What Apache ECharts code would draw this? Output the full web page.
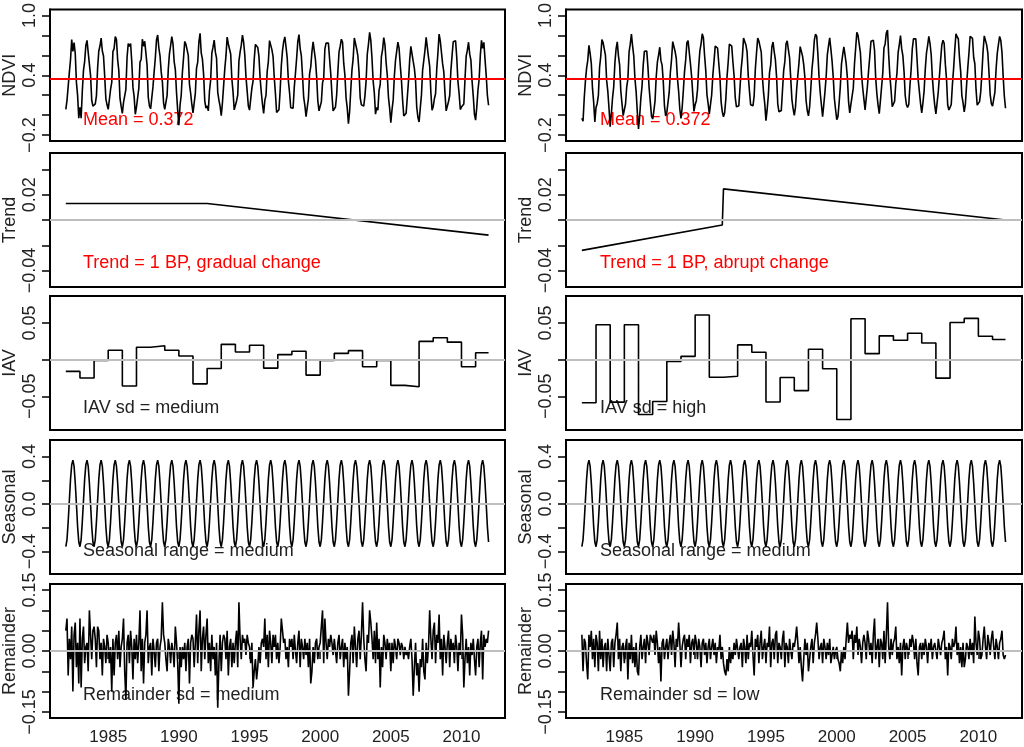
<!DOCTYPE html>
<html>
<head>
<meta charset="utf-8">
<script src="https://cdn.jsdelivr.net/npm/echarts@6/dist/echarts.min.js"></script>
<style>
  html, body { margin: 0; padding: 0; background: #fff; }
  #chart { width: 1024px; height: 747px; }
</style>
</head>
<body>
<div id="chart"></div>
<script>
// ---- data ----
var startYear = 1982;
var meanNDVI = 0.372;

// one seasonal cycle, Jan..Dec (same in both columns)
var seasonalCycle = [-0.36, -0.30, -0.15, 0.03, 0.21, 0.33, 0.37, 0.32, 0.18, 0.00, -0.19, -0.32];

// trend break points
var trendYearsL = [1982, 1992, 2011.917];
var trendValsL  = [0.013, 0.013, -0.012];
var trendYearsR = [1982, 1991.917, 1992, 2011.917];
var trendValsR  = [-0.024, -0.004, 0.0246, 0.0];

// inter-annual variation, one value per year 1982..2011
var iavL = [-0.016, -0.025, -0.001, 0.013, -0.036, 0.017, 0.019, 0.013, 0.005, -0.033,
            -0.012, 0.021, 0.0105, 0.0197, -0.0115, 0.007, 0.0115, -0.021, -0.001, 0.0087,
            0.0124, -0.0096, -0.001, -0.035, -0.037, 0.025, 0.030, 0.024, -0.0096, 0.0096];
var iavR = [-0.0587, 0.0477, -0.058, 0.0477, -0.0748, -0.057, -0.0023, 0.0046, 0.061, -0.0239,
            -0.0225, 0.0202, 0.0101, -0.0578, -0.0243, -0.0422, 0.0142, -0.0124, -0.0817, 0.056,
            0.0083, 0.0326, 0.0266, 0.0362, 0.0229, -0.0252, 0.0509, 0.0564, 0.0321, 0.0275];

// monthly remainder, 1982..2011
var remL = [
  0.05, 0.08,-0.06, 0.03,-0.02, 0.06,-0.10, 0.04, 0.07,-0.04, 0.02,-0.08,
  0.08,-0.09, 0.03, 0.06,-0.03, 0.01, 0.02,-0.05, 0.10, 0.04,-0.02, 0.05,
  0.06, 0.03,-0.04, 0.06, 0.05,-0.02, 0.02,-0.06, 0.03, 0.01,-0.03, 0.04,
  0.02,-0.03, 0.01,-0.10, 0.03,-0.06, 0.02, 0.04,-0.02, 0.05,-0.04, 0.01,
  0.03, 0.08,-0.05,-0.12, 0.02, 0.04,-0.03, 0.05, 0.01,-0.07, 0.03,-0.02,
  0.04,-0.03, 0.02, 0.10,-0.05, 0.03,-0.08, 0.02, 0.04, 0.10,-0.03, 0.01,
  0.02,-0.06, 0.03, 0.00,-0.04, 0.02, 0.03,-0.05, 0.01, 0.03, 0.12, 0.04,
  0.02,-0.02,-0.05, 0.03, 0.01,-0.03, 0.02, 0.00,-0.04, 0.06, 0.02,-0.03,
 -0.13, 0.01,-0.04, 0.01,-0.02, 0.02,-0.05, 0.01, 0.03,-0.08, 0.02, 0.04,
  0.03,-0.04, 0.02, 0.09,-0.03, 0.05, 0.10,-0.05, 0.03, 0.06,-0.02, 0.04,
  0.08,-0.03, 0.02,-0.05, 0.04,-0.02, 0.01,-0.06, 0.02,-0.14,-0.03, 0.04,
 -0.05, 0.02, 0.04, 0.03,-0.02, 0.05,-0.06, 0.01, 0.03,-0.04, 0.02,-0.03,
  0.02, 0.05,-0.04, 0.12, 0.03,-0.02, 0.04, 0.02, 0.03,-0.01, 0.04, 0.02,
  0.01,-0.03, 0.02,-0.09,-0.05,-0.02,-0.07,-0.04, 0.01,-0.03, 0.02, 0.03,
  0.01, 0.08,-0.02, 0.04,-0.04, 0.05, 0.02,-0.03, 0.04, 0.01, 0.04,-0.02,
  0.02,-0.03, 0.01, 0.08, 0.05, 0.02, 0.03,-0.02, 0.01,-0.04, 0.03, 0.01,
  0.03,-0.02, 0.04, 0.00,-0.03, 0.02, 0.05,-0.04, 0.03, 0.01,-0.02, 0.03,
 -0.01, 0.02,-0.04, 0.03,-0.08,-0.05, 0.01,-0.03, 0.02, 0.03,-0.02, 0.01,
  0.02, 0.06, 0.10,-0.03, 0.08, 0.02,-0.02, 0.03, 0.01, 0.04, 0.02,-0.01,
  0.03, 0.00,-0.03, 0.02, 0.04,-0.02, 0.01, 0.03,-0.04, 0.02,-0.02, 0.01,
 -0.11,-0.05, 0.02, 0.04,-0.03, 0.06, 0.01,-0.04, 0.03, 0.05,-0.02, 0.04,
  0.12, 0.03,-0.02,-0.05, 0.04, 0.02, 0.10, 0.07, 0.03,-0.02, 0.05,-0.03,
  0.07,-0.02, 0.03,-0.09, 0.01,-0.04, 0.04, 0.02,-0.02, 0.03, 0.00, 0.02,
 -0.05, 0.02,-0.03, 0.03, 0.01,-0.02, 0.03, 0.02,-0.01, 0.02, 0.01,-0.02,
  0.01,-0.01, 0.00,-0.02, 0.01, 0.03,-0.02,-0.11,-0.04, 0.02,-0.06,-0.03,
 -0.10,-0.02,-0.04, 0.03,-0.05,-0.07, 0.02,-0.03, 0.01, 0.10, 0.03,-0.02,
  0.05, 0.07,-0.03, 0.04, 0.02, 0.09,-0.02, 0.03,-0.06, 0.04, 0.01,-0.03,
  0.02, 0.05,-0.04, 0.03, 0.00, 0.02,-0.03, 0.04, 0.01,-0.05, 0.02,-0.01,
  0.09, 0.04,-0.09,-0.02, 0.03,-0.03, 0.01,-0.06, 0.02,-0.01, 0.03,-0.02,
 -0.06, 0.01, 0.03,-0.04, 0.02, 0.05,-0.07, 0.04, 0.01, 0.03, 0.02, 0.05
];
var remR = [
  0.04,-0.05, 0.03, 0.02,-0.03,-0.07, 0.04, 0.01, 0.05,-0.02, 0.03,-0.04,
  0.04, 0.02,-0.05, 0.05,-0.02, 0.03,-0.04, 0.01, 0.02,-0.05, 0.03,-0.01,
 -0.05, 0.02, 0.03,-0.04, 0.02, 0.04, 0.07,-0.02, 0.03,-0.05, 0.01, 0.02,
 -0.03, 0.01, 0.03,-0.07, 0.02,-0.02, 0.04,-0.03, 0.01,-0.04, 0.02,-0.05,
 -0.06, 0.01, 0.04,-0.02, 0.01, 0.03,-0.03, 0.04, 0.02,-0.01, 0.04, 0.03,
  0.02, 0.04,-0.01, 0.05, 0.02,-0.03, 0.01,-0.075,0.02, 0.03,-0.02, 0.01,
  0.03,-0.02, 0.02, 0.04,-0.01, 0.05, 0.02,-0.04, 0.03, 0.01, 0.07, 0.02,
 -0.04, 0.01, 0.03, 0.04,-0.02, 0.03, 0.01, 0.04,-0.03, 0.02, 0.03,-0.01,
  0.04, 0.02,-0.02, 0.03, 0.01,-0.04, 0.02, 0.03,-0.01, 0.02,-0.03, 0.01,
  0.03,-0.02, 0.01, 0.03,-0.01, 0.02,-0.03, 0.01, 0.00, 0.04,-0.02, 0.01,
 -0.03,-0.05,-0.06,-0.02,-0.05, 0.01,-0.03, 0.00,-0.02, 0.02,-0.01, 0.03,
  0.03,-0.02, 0.01, 0.02,-0.04, 0.03, 0.01,-0.03, 0.04,-0.02, 0.02, 0.01,
  0.05,-0.01,-0.06, 0.03, 0.01, 0.04,-0.03, 0.02, 0.05,-0.02, 0.01, 0.03,
 -0.03, 0.02, 0.01, 0.06,-0.04, 0.02, 0.03,-0.02, 0.04, 0.05,-0.03, 0.02,
  0.01,-0.02, 0.03, 0.05,-0.04, 0.02, 0.01,-0.03, 0.03, 0.00,-0.02, 0.02,
  0.01, 0.03, 0.06, 0.02,-0.03, 0.01,-0.04,-0.075,-0.02,0.03,-0.01, 0.02,
 -0.05,-0.02, 0.01, 0.03,-0.03, 0.02, 0.04, 0.07, 0.03,-0.02, 0.01, 0.02,
 -0.03, 0.03, 0.01,-0.02, 0.02,-0.01, 0.03,-0.03,-0.01, 0.01,-0.02, 0.00,
  0.01,-0.02,-0.03,-0.05, 0.00,-0.03, 0.01,-0.02, 0.03, 0.07, 0.02, 0.04,
  0.03, 0.05,-0.02, 0.04, 0.02, 0.06,-0.01, 0.03, 0.01,-0.03, 0.02, 0.04,
  0.02,-0.02, 0.05, 0.03,-0.01, 0.02,-0.03, 0.04, 0.08,-0.02, 0.01, 0.03,
 -0.04, 0.03, 0.02,-0.02, 0.05,-0.03, 0.04, 0.12, 0.01,-0.02, 0.03,-0.01,
  0.02, 0.03, 0.06,-0.02, 0.01,-0.03, 0.02,-0.06, 0.01, 0.03,-0.02, 0.02,
  0.02,-0.01, 0.03, 0.01, 0.04, 0.02,-0.02, 0.03,-0.03,-0.06, 0.01, 0.02,
 -0.02, 0.02,-0.01, 0.03, 0.01,-0.03, 0.02, 0.00, 0.03,-0.02, 0.01, 0.02,
  0.02,-0.02, 0.03, 0.01,-0.01, 0.02, 0.03, 0.05,-0.02, 0.01,-0.06, 0.02,
  0.01,-0.02, 0.03, 0.01, 0.02, 0.06,-0.01, 0.02,-0.03, 0.01,-0.04, 0.02,
 -0.04,-0.02, 0.02, 0.01,-0.02, 0.03,-0.01, 0.02,-0.03, 0.085,0.02,-0.01,
  0.05, 0.03,-0.02,-0.01, 0.03, 0.06, 0.01,-0.02, 0.04, 0.02,-0.01, 0.03,
  0.05, 0.01,-0.02, 0.03, 0.01,-0.02, 0.02, 0.03, 0.05,-0.01,-0.02,-0.01
];

// axis ticks and labels
var yearTicks = [1985, 1990, 1995, 2000, 2005, 2010];
var ndviTicks = [-0.2, 0, 0.2, 0.4, 0.6, 0.8, 1.0];
var ndviLabels = [1.0, 0.4, -0.2];
var trendTicks = [-0.04, -0.02, 0, 0.02, 0.04];
var trendLabels = [0.02, -0.04];
var iavTicks = [-0.05, 0, 0.05];
var iavLabels = [0.05, -0.05];
var seasTicks = [-0.4, -0.2, 0, 0.2, 0.4];
var seasLabels = [0.4, 0, -0.4];
var remTicks = [-0.15, -0.1, -0.05, 0, 0.05, 0.1, 0.15];
var remLabels = [0.15, 0, -0.15];

var notesL = ['Mean = 0.372', 'Trend = 1 BP, gradual change', 'IAV sd = medium', 'Seasonal range = medium', 'Remainder sd = medium'];
var notesR = ['Mean = 0.372', 'Trend = 1 BP, abrupt change', 'IAV sd = high', 'Seasonal range = medium', 'Remainder sd = low'];

// ---- build series ----
var FONT = '"Liberation Sans", Arial, Helvetica, sans-serif';

function trendAt(xs, vs, t) {
  for (var k = 0; k < xs.length - 1; k++) {
    if (t <= xs[k + 1]) {
      var f = (t - xs[k]) / (xs[k + 1] - xs[k]);
      return vs[k] + f * (vs[k + 1] - vs[k]);
    }
  }
  return vs[vs.length - 1];
}

function buildColumn(trendYears, trendVals, iav, rem) {
  var ndvi = [], seas = [], remainder = [], iavPts = [], trend = [];
  for (var i = 0; i < rem.length; i++) {
    var t = startYear + i / 12;
    var yr = Math.floor(i / 12);
    ndvi.push([t, meanNDVI + trendAt(trendYears, trendVals, t) + iav[yr] + seasonalCycle[i % 12] + rem[i]]);
    seas.push([t, seasonalCycle[i % 12]]);
    remainder.push([t, rem[i]]);
  }
  for (var y = 0; y < iav.length; y++) iavPts.push([startYear + y, iav[y]]);
  iavPts.push([startYear + (rem.length - 1) / 12, iav[iav.length - 1]]);
  for (var j = 0; j < trendYears.length; j++) trend.push([trendYears[j], trendVals[j]]);
  return [ndvi, trend, iavPts, seas, remainder];
}

var cols = [buildColumn(trendYearsL, trendValsL, iavL, remL),
            buildColumn(trendYearsR, trendValsR, iavR, remR)];

var rows = [
  { name: 'NDVI', min: -0.259, max: 1.061, ticks: ndviTicks, labels: ndviLabels, dec: 1, ref: meanNDVI, refColor: '#ff0000' },
  { name: 'Trend', min: -0.053, max: 0.053, ticks: trendTicks, labels: trendLabels, dec: 2, ref: 0, refColor: '#bebebe' },
  { name: 'IAV', min: -0.096, max: 0.087, ticks: iavTicks, labels: iavLabels, dec: 2, ref: 0, refColor: '#bebebe', step: 'end' },
  { name: 'Seasonal', min: -0.59, max: 0.54, ticks: seasTicks, labels: seasLabels, dec: 1, ref: 0, refColor: '#bebebe' },
  { name: 'Remainder', min: -0.165, max: 0.165, ticks: remTicks, labels: remLabels, dec: 2, ref: 0, refColor: '#bebebe' }
];

var colLeft = [49, 566];
var rowTop = [7, 153, 296, 440, 584];
var panelW = 456, panelH = 134;

var grids = [], xAxes = [], yAxes = [], series = [], graphics = [];

for (var c = 0; c < 2; c++) {
  for (var r = 0; r < rows.length; r++) {
    var idx = grids.length;
    var row = rows[r];
    var bottomRow = (r === rows.length - 1);
    grids.push({
      left: colLeft[c], top: rowTop[r], width: panelW, height: panelH,
      show: true, borderColor: '#000', borderWidth: 2, backgroundColor: 'transparent', containLabel: false
    });
    xAxes.push({
      type: 'value', gridIndex: idx, min: 1980.88, max: 2013.08,
      axisLine: { show: bottomRow, lineStyle: { color: '#000', width: 2 } },
      splitLine: { show: false },
      axisTick: { show: bottomRow, customValues: yearTicks, length: 8, lineStyle: { color: '#000', width: 1.5 } },
      axisLabel: {
        show: bottomRow, customValues: yearTicks, margin: 11, fontSize: 17, color: '#222', fontFamily: FONT,
        formatter: function (v) { return String(Math.round(v)); }
      }
    });
    (function (dec) {
      yAxes.push({
        type: 'value', gridIndex: idx, min: row.min, max: row.max,
        name: row.name, nameLocation: 'middle', nameGap: 31, nameRotate: 90,
        nameTextStyle: { fontSize: 18, color: '#222', fontFamily: FONT },
        axisLine: { show: true, lineStyle: { color: '#000', width: 2 } },
        splitLine: { show: false },
        axisTick: { show: true, customValues: row.ticks, length: 8, lineStyle: { color: '#000', width: 1.5 } },
        axisLabel: {
          show: true, customValues: row.labels, rotate: 90, margin: 11, fontSize: 18, color: '#222', fontFamily: FONT,
          formatter: function (v) { return (v < -1e-9 ? '\u2212' : '') + Math.abs(v).toFixed(dec); }
        }
      });
    })(row.dec);
    series.push({
      type: 'line', xAxisIndex: idx, yAxisIndex: idx, data: cols[c][r],
      step: row.step || false, showSymbol: false, symbol: 'none', smooth: false,
      lineStyle: { color: '#000', width: 1.6 }, animation: false, z: 3,
      markLine: {
        silent: true, symbol: ['none', 'none'], animation: false,
        label: { show: false },
        lineStyle: { color: row.refColor, width: 2.2, type: 'solid' },
        data: [{ yAxis: row.ref }]
      }
    });
    var note = (c === 0 ? notesL : notesR)[r];
    graphics.push({
      type: 'text', x: colLeft[c] + 34, y: [120, 263, 408, 551, 695][r], z: 1,
      style: {
        text: note, fill: (r < 2 ? '#ff0000' : '#222'),
        fontSize: 18, fontFamily: FONT, verticalAlign: 'middle', align: 'left'
      }
    });
  }
}

var chart = echarts.init(document.getElementById('chart'), null, { renderer: 'canvas' });
chart.setOption({
  backgroundColor: '#fff',
  animation: false,
  grid: grids,
  xAxis: xAxes,
  yAxis: yAxes,
  series: series,
  graphic: graphics
});
</script>
</body>
</html>
